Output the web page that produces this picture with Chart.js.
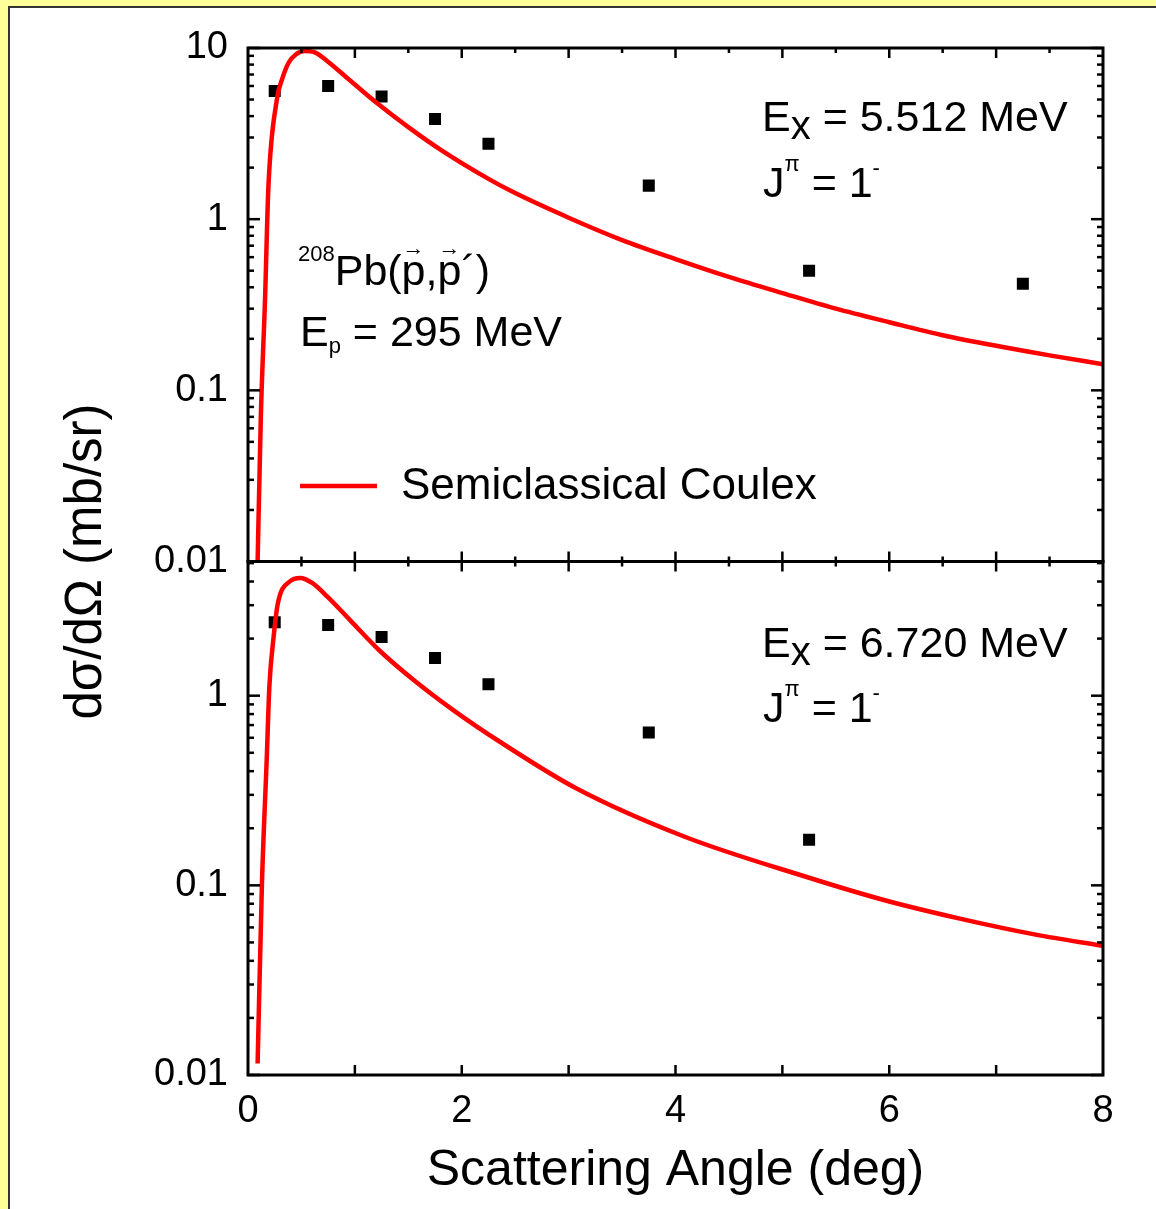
<!DOCTYPE html>
<html>
<head>
<meta charset="utf-8">
<title>208Pb(p,p') Coulex</title>
<script src="https://cdn.jsdelivr.net/npm/chart.js@4.4.0/dist/chart.umd.min.js"></script>
<style>
  html, body { margin: 0; padding: 0; background: #ffff99; overflow: hidden; }
  #sheet { position: absolute; left: 8px; top: 6px; width: 1170px; height: 1230px;
           background: #fff; border: 2px solid #333; box-sizing: border-box; }
  #chart { position: absolute; left: 0; top: 0; }
</style>
</head>
<body>
<div id="sheet"></div>
<canvas id="chart" width="1156" height="1209"></canvas>
<script>
// semiclassical Coulex curves (deg, mb/sr)
var angleTop = [0.09, 0.12, 0.16, 0.19, 0.27, 0.32, 0.38, 0.45, 0.53, 0.63, 0.74, 0.95, 1.2, 1.5, 1.8, 2.25, 2.5, 3.0, 3.5, 4.0, 4.5, 5.0, 5.5, 6.0, 6.5, 7.0, 7.5, 8.0];
var xsecTop = [0.01, 0.07, 0.35, 1.5, 5.0, 6.6, 8.2, 9.2, 9.6, 9.4, 8.4, 6.5, 4.8, 3.45, 2.55, 1.72, 1.42, 1.02, 0.755, 0.585, 0.46, 0.37, 0.30, 0.25, 0.21, 0.182, 0.16, 0.142];
var angleBot = [0.09, 0.13, 0.175, 0.2, 0.24, 0.28, 0.39, 0.49, 0.6, 0.74, 0.95, 1.24, 1.55, 1.92, 2.36, 3.07, 4.08, 5.22, 5.94, 6.65, 7.37, 8.0];
var xsecBot = [0.0115, 0.1, 0.46, 1.12, 2.05, 3.08, 4.0, 4.18, 3.93, 3.34, 2.52, 1.71, 1.21, 0.84, 0.57, 0.325, 0.181, 0.111, 0.084, 0.067, 0.055, 0.048];

// measured points
var ptAngleTop = [0.25, 0.75, 1.25, 1.75, 2.25, 3.75, 5.25, 7.25];
var ptTop = [5.6, 6.0, 5.2, 3.85, 2.76, 1.57, 0.50, 0.42];
var ptAngleBot = [0.25, 0.75, 1.25, 1.75, 2.25, 3.75, 5.25];
var ptBot = [2.44, 2.36, 2.04, 1.58, 1.15, 0.64, 0.174];

// axes
var xTicks = [0, 2, 4, 6, 8];
var yTicksTop = [0.01, 0.1, 1, 10];
var yTicksBot = [0.01, 0.1, 1];

var FONT = '"Liberation Sans", Arial, sans-serif';
Chart.defaults.font.family = FONT;
Chart.defaults.color = '#000';

function pts(xs, ys) {
  return xs.map(function (x, i) { return { x: x, y: ys[i] }; });
}

// draws a run of text pieces, each with its own size and vertical shift
function rich(ctx, x, y, parts) {
  parts.forEach(function (p) {
    var size = p.size || 43;
    ctx.font = size + 'px ' + FONT;
    var w = ctx.measureText(p.t).width;
    ctx.fillText(p.t, x, y + (p.dy || 0));
    if (p.arrow) {
      ctx.font = '22px ' + FONT;
      ctx.textAlign = 'center';
      ctx.fillText('\u2192', x + w / 2, y - 30);
      ctx.textAlign = 'left';
    }
    x += w;
  });
}

var framePlugin = {
  id: 'frame',
  afterDatasetsDraw: function (chart) {
    var ctx = chart.ctx, a = chart.chartArea;
    var sx = chart.scales.x, yt = chart.scales.yTop, yb = chart.scales.yBot;
    ctx.save();
    ctx.strokeStyle = '#000';
    ctx.lineWidth = 3;
    [yt, yb].forEach(function (s) {
      ctx.strokeRect(a.left, s.top, a.right - a.left, s.bottom - s.top);
    });

    ctx.lineWidth = 2.5;
    function line(x1, y1, x2, y2) {
      ctx.beginPath(); ctx.moveTo(x1, y1); ctx.lineTo(x2, y2); ctx.stroke();
    }
    // log ticks on both sides
    [yt, yb].forEach(function (s) {
      for (var e = -2; e <= 1; e++) {
        for (var m = 1; m <= 9; m++) {
          var v = m * Math.pow(10, e);
          if (v < s.min * 0.999 || v > s.max * 1.001) continue;
          var py = s.getPixelForValue(v);
          var len = m === 1 ? 12 : 6;
          line(a.left, py, a.left + len, py);
          line(a.right, py, a.right - len, py);
        }
      }
    });
    // x ticks: top panel every 0.5, bottom panel every 1
    for (var k = 1; k < 16; k++) {
      var v = k / 2;
      var px = sx.getPixelForValue(v);
      var len = k % 2 === 0 ? 10 : 5;
      line(px, yt.top, px, yt.top + len);
      line(px, yt.bottom - len, px, yt.bottom + len);
    }
    for (var j = 1; j < 8; j++) {
      var qx = sx.getPixelForValue(j);
      line(qx, yb.bottom, qx, yb.bottom - 10);
    }

    // legend
    ctx.strokeStyle = '#ff0000';
    ctx.lineWidth = 4.5;
    line(300, 486, 377, 486);

    ctx.fillStyle = '#000';
    ctx.textAlign = 'left';
    ctx.textBaseline = 'alphabetic';
    rich(ctx, 401, 499, [{ t: 'Semiclassical Coulex', size: 44 }]);

    // panel annotations
    rich(ctx, 762, 131, [{ t: 'E' }, { t: 'x', size: 40, dy: 8 }, { t: ' = 5.512 MeV' }]);
    rich(ctx, 763, 197, [{ t: 'J' }, { t: '\u03c0', size: 22, dy: -26 }, { t: ' = 1' }, { t: '-', size: 22, dy: -22 }]);
    rich(ctx, 762, 657, [{ t: 'E' }, { t: 'x', size: 40, dy: 8 }, { t: ' = 6.720 MeV' }]);
    rich(ctx, 763, 722, [{ t: 'J' }, { t: '\u03c0', size: 22, dy: -26 }, { t: ' = 1' }, { t: '-', size: 22, dy: -22 }]);

    rich(ctx, 298, 285, [{ t: '208', size: 22, dy: -24 }, { t: 'Pb(' }, { t: 'p', arrow: true }, { t: ',' },
      { t: 'p', arrow: true }, { t: '\u00b4' }, { t: ')' }]);
    rich(ctx, 300, 346, [{ t: 'E' }, { t: 'p', size: 22, dy: 7 }, { t: ' = 295 MeV' }]);

    // shared y title
    ctx.translate(101, (yt.top + yb.bottom) / 2);
    ctx.rotate(-Math.PI / 2);
    ctx.textAlign = 'center';
    ctx.font = '51px ' + FONT;
    ctx.fillText('d\u03c3/d\u03a9 (mb/sr)', 0, 0);
    ctx.restore();
  }
};

function logAxis(ticks, max, weight) {
  return {
    type: 'logarithmic',
    position: 'left',
    stack: 'panels',
    stackWeight: 1,
    weight: weight,
    min: 0.01,
    max: max,
    grid: { display: false, drawTicks: false },
    border: { display: false },
    afterBuildTicks: function (s) { s.ticks = ticks.map(function (v) { return { value: v }; }); },
    afterFit: function (s) { s.width = 248; },
    ticks: { font: { size: 38 }, color: '#000', padding: 20, callback: function (v) { return String(v); } }
  };
}

new Chart(document.getElementById('chart'), {
  data: {
    datasets: [
      { type: 'line', label: 'Semiclassical Coulex', data: pts(angleTop, xsecTop), yAxisID: 'yTop',
        borderColor: '#ff0000', borderWidth: 4.5, pointRadius: 0, cubicInterpolationMode: 'monotone', fill: false },
      { type: 'scatter', label: 'data 5.512', data: pts(ptAngleTop, ptTop), yAxisID: 'yTop',
        pointStyle: 'rect', pointRadius: 8.5, backgroundColor: '#000', borderWidth: 0 },
      { type: 'line', label: 'Coulex 6.720', data: pts(angleBot, xsecBot), yAxisID: 'yBot',
        borderColor: '#ff0000', borderWidth: 4.5, pointRadius: 0, cubicInterpolationMode: 'monotone', fill: false },
      { type: 'scatter', label: 'data 6.720', data: pts(ptAngleBot, ptBot), yAxisID: 'yBot',
        pointStyle: 'rect', pointRadius: 8.5, backgroundColor: '#000', borderWidth: 0 }
    ]
  },
  options: {
    responsive: false,
    animation: false,
    layout: { padding: { left: 0, right: 53, top: 48, bottom: 0 } },
    plugins: { legend: { display: false }, tooltip: { enabled: false } },
    scales: {
      x: {
        type: 'linear', position: 'bottom', min: 0, max: 8,
        grid: { display: false, drawTicks: false },
        border: { display: false },
        afterBuildTicks: function (s) { s.ticks = xTicks.map(function (v) { return { value: v }; }); },
        afterFit: function (s) { s.height = 134; },
        ticks: { font: { size: 38 }, color: '#000', padding: 14, maxRotation: 0 },
        title: { display: true, text: 'Scattering Angle (deg)', font: { size: 50 }, color: '#000', padding: { top: 0, bottom: 8 } }
      },
      yBot: logAxis(yTicksBot, 5.1, 1),
      yTop: logAxis(yTicksTop, 10, 2)
    }
  },
  plugins: [framePlugin]
});
</script>
</body>
</html>
